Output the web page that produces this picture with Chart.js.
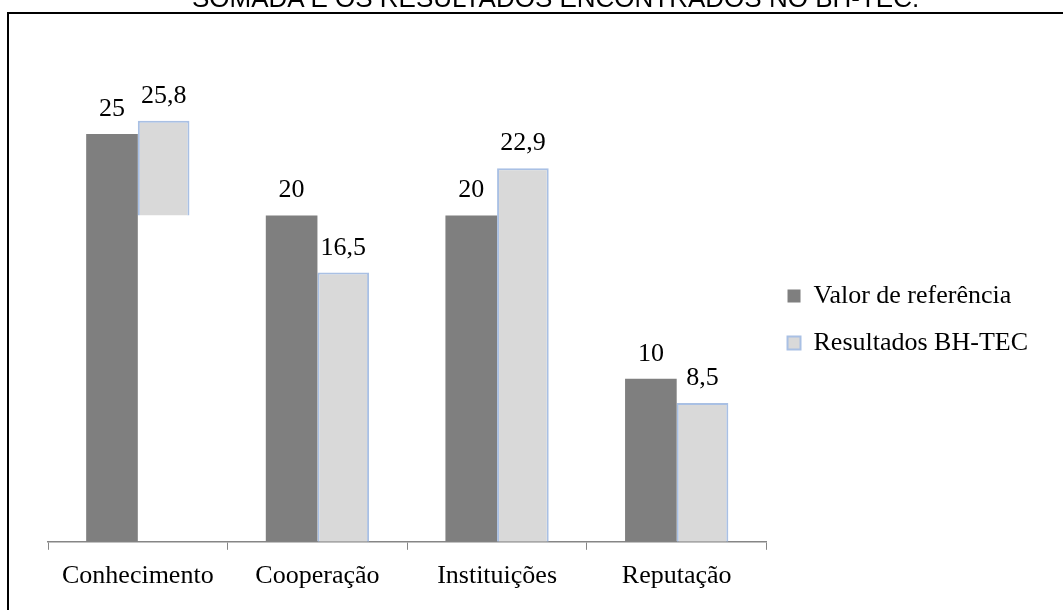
<!DOCTYPE html>
<html lang="pt-BR">
<head>
  <meta charset="UTF-8">
  <title>Valor de referência x Resultados BH-TEC</title>
  <script src="https://cdn.jsdelivr.net/npm/chart.js@4/dist/chart.umd.min.js"></script>
  <style>
    html, body { margin: 0; padding: 0; background: #fff; overflow: hidden; }
    #wrap { position: relative; width: 1063px; height: 610px; }
    #chart { position: absolute; left: 0; top: 0; }
    .titulo {
      position: absolute; left: 192px; top: -15px;
      font: 26px "Liberation Sans", Arial, sans-serif; line-height: 26px;
      white-space: nowrap; color: #000;
    }
    .moldura-top { position: absolute; left: 7px; top: 12px; width: 1056px; height: 2px; background: #000; }
    .moldura-left { position: absolute; left: 7px; top: 12px; width: 2px; height: 598px; background: #000; }
  </style>
</head>
<body>
  <div id="wrap">
    <canvas id="chart" width="1063" height="610"></canvas>
    <div class="titulo">SOMADA E OS RESULTADOS ENCONTRADOS NO BH-TEC.</div>
    <div class="moldura-top"></div>
    <div class="moldura-left"></div>
  </div>

  <script>
    var categorias = ['Conhecimento', 'Cooperação', 'Instituições', 'Reputação']
    var valorReferencia = [25, 20, 20, 10]
    var resultadosBHTEC = [25.8, 16.5, 22.9, 8.5]
    // in the original the first BH-TEC bar only shows from 20 upwards
    var baseBHTEC = [20, 0, 0, 0]

    Chart.defaults.font.family = '"Liberation Serif", "Times New Roman", serif'
    Chart.defaults.font.size = 26
    Chart.defaults.color = '#000'

    // value labels above each bar, decimal comma
    var rotulos = {
      id: 'rotulos',
      afterDatasetsDraw: function (chart) {
        var ctx = chart.ctx
        ctx.save()
        ctx.font = '26px "Liberation Serif", "Times New Roman", serif'
        ctx.fillStyle = '#000'
        ctx.textAlign = 'center'
        ctx.textBaseline = 'alphabetic'
        var valores = [valorReferencia, resultadosBHTEC]
        chart.data.datasets.forEach(function (ds, i) {
          chart.getDatasetMeta(i).data.forEach(function (bar, j) {
            var txt = String(valores[i][j]).replace('.', ',')
            ctx.fillText(txt, bar.x, bar.y - 18)
          })
        })
        ctx.restore()
      }
    }

    var ctx = document.getElementById('chart').getContext('2d')
    var chart = new Chart(ctx, {
      type: 'bar',
      data: {
        labels: categorias,
        datasets: [{
          label: 'Valor de referência',
          data: valorReferencia,
          backgroundColor: '#7f7f7f',
          borderWidth: 0
        }, {
          label: 'Resultados BH-TEC',
          data: resultadosBHTEC.map(function (v, i) { return [baseBHTEC[i], v] }),
          backgroundColor: '#d9d9d9',
          borderColor: '#a9c0e4',
          borderWidth: 2
        }]
      },
      options: {
        responsive: false,
        animation: false,
        events: [],
        devicePixelRatio: 1,
        categoryPercentage: 0.575,
        barPercentage: 1,
        layout: { padding: { top: 36, bottom: 7, left: 48, right: 25 } },
        plugins: {
          tooltip: { enabled: false },
          legend: {
            position: 'right',
            labels: {
              boxWidth: 13,
              boxHeight: 13,
              padding: 21,
              color: '#000',
              font: { size: 26 }
            }
          }
        },
        scales: {
          x: {
            grid: {
              display: true,
              drawOnChartArea: false,
              drawTicks: true,
              tickLength: 8,
              color: '#868686',
              offset: true
            },
            border: { display: true, color: '#868686', width: 1.5 },
            ticks: { color: '#000', padding: 11, font: { size: 26 } }
          },
          y: {
            display: false,
            min: 0,
            max: 31
          }
        }
      },
      plugins: [rotulos]
    })
  </script>
</body>
</html>
